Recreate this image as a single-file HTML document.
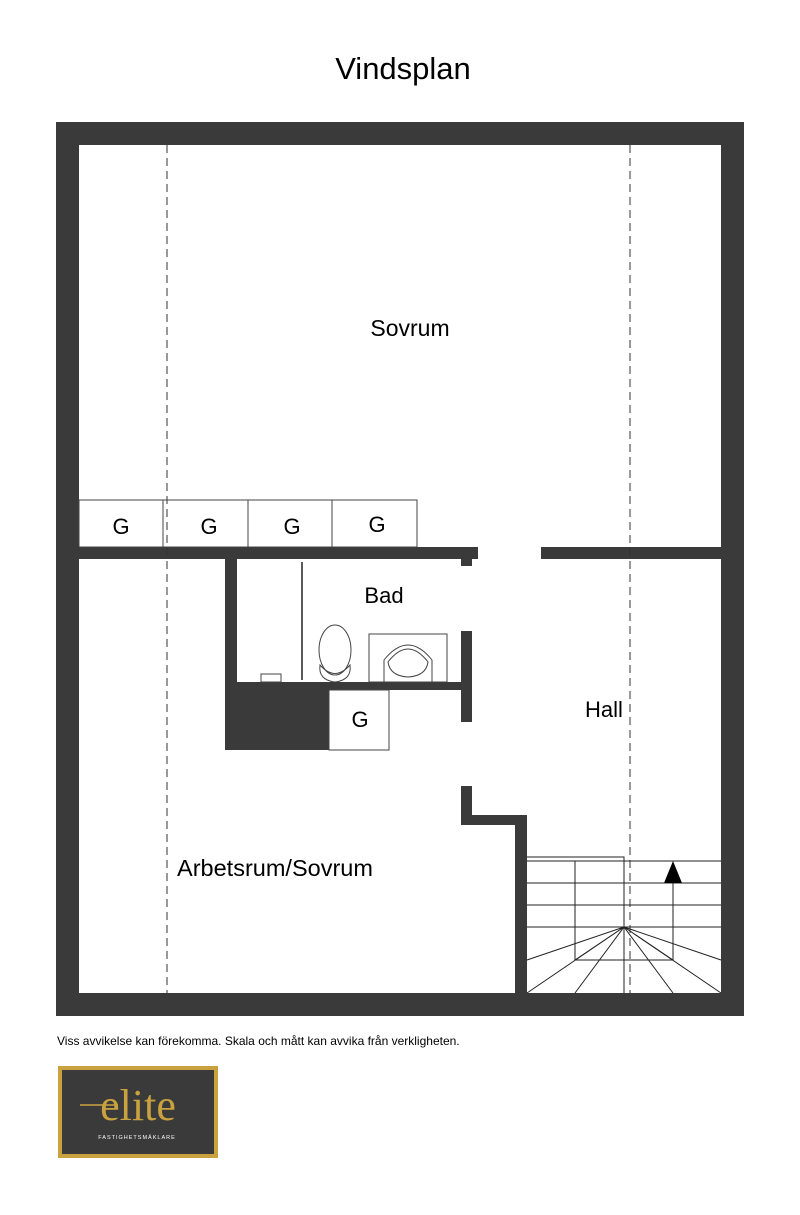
<!DOCTYPE html>
<html><head><meta charset="utf-8"><style>
html,body{margin:0;padding:0;background:#fff;}
svg{display:block;}
text{font-family:"Liberation Sans",Arial,sans-serif;fill:#000;}
</style></head><body>
<svg width="800" height="1215" viewBox="0 0 800 1215" xmlns="http://www.w3.org/2000/svg">
<text x="403" y="79" font-size="31" text-anchor="middle">Vindsplan</text>
<g fill="#3a3a3a">
<path fill-rule="evenodd" d="M56 122H744V1016H56Z M79 145V993H721V145Z"/>
<rect x="79" y="547" width="399" height="12"/>
<rect x="461" y="547" width="11" height="19"/>
<rect x="541" y="547" width="180" height="12"/>
<rect x="225" y="559" width="12" height="191"/>
<rect x="237" y="682" width="235" height="8"/>
<rect x="225" y="682" width="104" height="68"/>
<rect x="461" y="631" width="11" height="91"/>
<rect x="461" y="786" width="11" height="39"/>
<rect x="461" y="815" width="66" height="10"/>
<rect x="515" y="815" width="12" height="178"/>
</g>
<g stroke="#333" stroke-width="1" stroke-dasharray="8,5" fill="none">
<line x1="167" y1="145" x2="167" y2="993"/>
<line x1="630" y1="145" x2="630" y2="993"/>
</g>
<g stroke="#444" stroke-width="1" fill="none">
<rect x="79" y="500" width="338" height="47"/>
<line x1="163" y1="500" x2="163" y2="547"/>
<line x1="248" y1="500" x2="248" y2="547"/>
<line x1="332" y1="500" x2="332" y2="547"/>
<rect x="329" y="690" width="60" height="60"/>
<line x1="302" y1="562" x2="302" y2="680" stroke="#222" stroke-width="1.5"/>
<rect x="369" y="634" width="78" height="48"/>
<path d="M384 682 V660 Q408 630 432 660 V682"/>
<path d="M388 662 Q408 636 428 662 Q426 676 408 677 Q390 676 388 662Z"/>
<ellipse cx="335" cy="650" rx="16" ry="25"/>
<path d="M320 665 Q335 682 350 665 Q352 680 335 682 Q318 680 320 665Z"/>
<rect x="261" y="674" width="20" height="8"/>
</g>
<g stroke="#222" stroke-width="1" fill="none">
<path d="M527 857H624V993"/>
<line x1="527" y1="861" x2="721" y2="861"/>
<line x1="527" y1="883" x2="721" y2="883"/>
<line x1="527" y1="905" x2="721" y2="905"/>
<line x1="527" y1="927" x2="721" y2="927"/>
<path d="M575 861V960H673V883"/>
<path d="M527 960L624 927L721 960 M527 993L624 927L721 993 M575 993L624 927L673 993 M575 960L624 927L673 960"/>
</g>
<polygon points="673,861 664,883 682,883" fill="#000"/>
<g font-size="22" text-anchor="middle">
<text x="410" y="336" font-size="23">Sovrum</text>
<text x="121" y="534">G</text>
<text x="209" y="534">G</text>
<text x="292" y="534">G</text>
<text x="377" y="532">G</text>
<text x="384" y="603">Bad</text>
<text x="360" y="727">G</text>
<text x="604" y="717">Hall</text>
<text x="275" y="876" font-size="23.5">Arbetsrum/Sovrum</text>
</g>
<text x="57" y="1045" font-size="12">Viss avvikelse kan förekomma. Skala och mått kan avvika från verkligheten.</text>
<rect x="58" y="1066" width="160" height="92" fill="#c9a23f"/>
<rect x="62" y="1070" width="152" height="84" fill="#3a3a3a"/>
<text x="138" y="1120" font-size="44" text-anchor="middle" style="font-family:'Liberation Serif',serif;fill:#c9a23f">elite</text>
<line x1="80" y1="1105" x2="118" y2="1105" stroke="#c9a23f" stroke-width="1.5"/>
<text x="137" y="1139" font-size="5.5" text-anchor="middle" style="fill:#fff" letter-spacing="1">FASTIGHETSMÄKLARE</text>
</svg>
</body></html>
